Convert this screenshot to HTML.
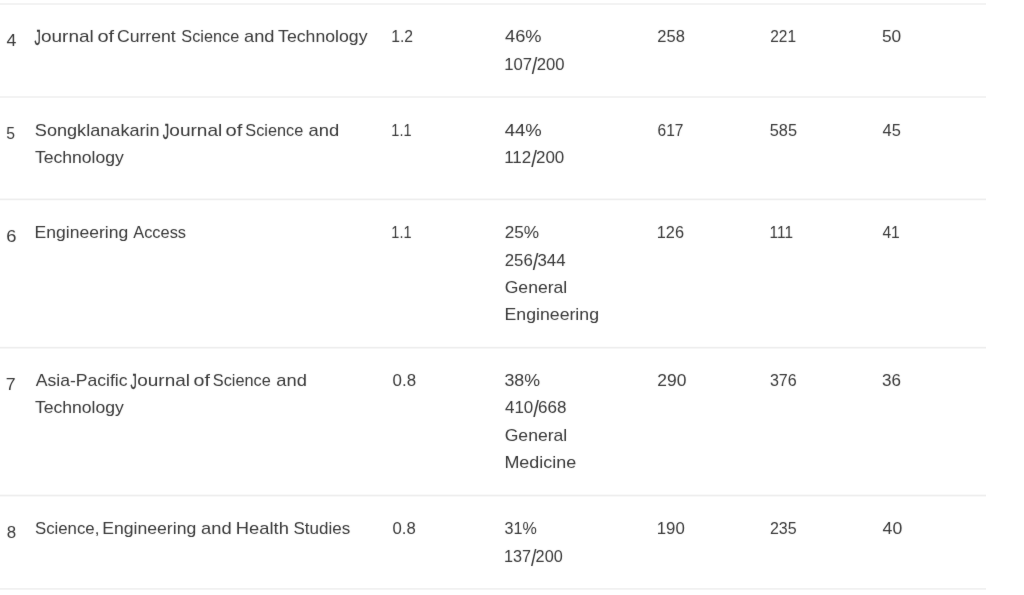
<!DOCTYPE html>
<html lang="en"><head><meta charset="utf-8"><title>Sources</title>
<style>
html,body{margin:0;padding:0;background:#fff;}
body{width:1024px;height:595px;position:relative;overflow:hidden;font-family:"Liberation Sans",sans-serif;color:#383838;}
#w{position:absolute;left:0;top:0;width:1024px;height:595px;will-change:transform;}
.w,.n{position:absolute;left:0;white-space:nowrap;line-height:20px;height:20px;transform-origin:0 0;}
.w{font-size:17px;}.n{font-size:16px;}
.l{position:absolute;left:0;width:985.5px;height:1px;}
.n b{font-weight:normal;display:inline-block;transform:scale(1.2,1.44);transform-origin:50% 6px;}
#t{position:absolute;left:0;top:0;width:1024px;height:595px;filter:url(#soft);}
</style></head>
<body>
<svg width="0" height="0" style="position:absolute"><defs><filter id="soft" x="0" y="0" width="100%" height="100%" color-interpolation-filters="sRGB"><feConvolveMatrix order="3" kernelMatrix="0.0125 0.05 0.0125 0.05 0.75 0.05 0.0125 0.05 0.0125" divisor="1" edgeMode="duplicate" preserveAlpha="false"/></filter></defs></svg>
<div id="w">
<div class="l" style="top:3px;background:#f3f3f3"></div>
<div class="l" style="top:4px;background:#f3f3f3"></div>
<div class="l" style="top:96px;background:#f3f3f3"></div>
<div class="l" style="top:97px;background:#f3f3f3"></div>
<div class="l" style="top:198px;background:#f7f7f7"></div>
<div class="l" style="top:199px;background:#eeeeee"></div>
<div class="l" style="top:200px;background:#fbfbfb"></div>
<div class="l" style="top:346px;background:#fcfcfc"></div>
<div class="l" style="top:347px;background:#eeeeee"></div>
<div class="l" style="top:348px;background:#f6f6f6"></div>
<div class="l" style="top:494px;background:#f9f9f9"></div>
<div class="l" style="top:495px;background:#eeeeee"></div>
<div class="l" style="top:496px;background:#f8f8f8"></div>
<div class="l" style="top:588px;background:#f1f1f1"></div>
<div class="l" style="top:589px;background:#f4f4f4"></div>
<div id="t">
<div class="row">
 <div class="cell">
  <div><span class="n" style="top:31px;transform:translateX(6.53px) scaleX(1.1093)">4</span></div>
 </div>
 <div class="cell">
  <div><span class="w" style="top:27px;transform-origin:0 3px;-webkit-text-stroke:0.25px #383838;transform:translateX(34.48px) scale(0.7426,1.2600)">J</span><span class="w" style="top:27px;transform:translateX(41.01px) scaleX(1.1158)">ournal</span> <span class="w" style="top:27px;transform:translateX(97.40px) scaleX(1.1764)">of</span> <span class="w" style="top:27px;transform:translateX(116.90px) scaleX(1.0372)">Current</span> <span class="w" style="top:27px;transform:translateX(181.37px) scaleX(0.9573)">Science</span> <span class="w" style="top:27px;transform:translateX(244.00px) scaleX(1.0754)">and</span> <span class="w" style="top:27px;transform:translateX(278.10px) scaleX(1.0391)">Technology</span></div>
 </div>
 <div class="cell">
  <div><span class="n" style="top:27px;transform:translateX(391.28px) scaleX(0.9811)">1.2</span></div>
 </div>
 <div class="cell">
  <div><span class="n" style="top:27px;transform:translateX(505.01px) scaleX(1.1394)">46%</span></div>
  <div><span class="n" style="top:55px;transform:translateX(504.24px) scaleX(1.0404)">107<b>/</b>200</span></div>
 </div>
 <div class="cell">
  <div><span class="n" style="top:27px;transform:translateX(657.32px) scaleX(1.0314)">258</span></div>
 </div>
 <div class="cell">
  <div><span class="n" style="top:27px;transform:translateX(770.24px) scaleX(0.9654)">221</span></div>
 </div>
 <div class="cell">
  <div><span class="n" style="top:27px;transform:translateX(881.88px) scaleX(1.0798)">50</span></div>
 </div>
</div>
<div class="row">
 <div class="cell">
  <div><span class="n" style="top:124px;transform:translateX(6.27px) scaleX(0.9825)">5</span></div>
 </div>
 <div class="cell">
  <div><span class="w" style="top:121px;transform:translateX(34.80px) scaleX(1.0656)">Songklanakarin</span> <span class="w" style="top:121px;transform-origin:0 3px;-webkit-text-stroke:0.25px #383838;transform:translateX(162.72px) scale(0.7435,1.2600)">J</span><span class="w" style="top:121px;transform:translateX(169.30px) scaleX(1.1213)">ournal</span> <span class="w" style="top:121px;transform:translateX(225.47px) scaleX(1.1845)">of</span> <span class="w" style="top:121px;transform:translateX(245.37px) scaleX(0.9573)">Science</span> <span class="w" style="top:121px;transform:translateX(308.52px) scaleX(1.0812)">and</span></div>
  <div><span class="w" style="top:148px;transform:translateX(34.91px) scaleX(1.0344)">Technology</span></div>
 </div>
 <div class="cell">
  <div><span class="n" style="top:121px;transform:translateX(391.37px) scaleX(0.9033)">1.1</span></div>
 </div>
 <div class="cell">
  <div><span class="n" style="top:121px;transform:translateX(504.72px) scaleX(1.1541)">44%</span></div>
  <div><span class="n" style="top:148px;transform:translateX(504.15px) scaleX(1.0610)">112<b>/</b>200</span></div>
 </div>
 <div class="cell">
  <div><span class="n" style="top:121px;transform:translateX(657.50px) scaleX(0.9710)">617</span></div>
 </div>
 <div class="cell">
  <div><span class="n" style="top:121px;transform:translateX(769.74px) scaleX(1.0198)">585</span></div>
 </div>
 <div class="cell">
  <div><span class="n" style="top:121px;transform:translateX(882.59px) scaleX(1.0275)">45</span></div>
 </div>
</div>
<div class="row">
 <div class="cell">
  <div><span class="n" style="top:227px;transform:translateX(6.37px) scaleX(1.1452)">6</span></div>
 </div>
 <div class="cell">
  <div><span class="w" style="top:223px;transform:translateX(34.60px) scaleX(1.0319)">Engineering</span> <span class="w" style="top:223px;transform:translateX(133.23px) scaleX(0.9637)">Access</span></div>
 </div>
 <div class="cell">
  <div><span class="n" style="top:223px;transform:translateX(391.37px) scaleX(0.9033)">1.1</span></div>
 </div>
 <div class="cell">
  <div><span class="n" style="top:223px;transform:translateX(504.63px) scaleX(1.0761)">25%</span></div>
  <div><span class="n" style="top:251px;transform:translateX(504.77px) scaleX(1.0506)">256<b>/</b>344</span></div>
  <div><span class="w" style="top:278px;transform:translateX(504.69px) scaleX(1.0344)">General</span></div>
  <div><span class="w" style="top:305px;transform:translateX(504.57px) scaleX(1.0403)">Engineering</span></div>
 </div>
 <div class="cell">
  <div><span class="n" style="top:223px;transform:translateX(656.76px) scaleX(1.0200)">126</span></div>
 </div>
 <div class="cell">
  <div><span class="n" style="top:223px;transform:translateX(769.60px) scaleX(0.9593)">111</span></div>
 </div>
 <div class="cell">
  <div><span class="n" style="top:223px;transform:translateX(882.44px) scaleX(0.9750)">41</span></div>
 </div>
</div>
<div class="row">
 <div class="cell">
  <div><span class="n" style="top:375px;transform:translateX(5.69px) scaleX(1.1074)">7</span></div>
 </div>
 <div class="cell">
  <div><span class="w" style="top:371px;transform:translateX(35.72px) scaleX(1.0342)">Asia-Pacific</span> <span class="w" style="top:371px;transform-origin:0 3px;-webkit-text-stroke:0.25px #383838;transform:translateX(130.43px) scale(0.7457,1.2600)">J</span><span class="w" style="top:371px;transform:translateX(137.22px) scaleX(1.1155)">ournal</span> <span class="w" style="top:371px;transform:translateX(193.53px) scaleX(1.1586)">of</span> <span class="w" style="top:371px;transform:translateX(212.78px) scaleX(0.9594)">Science</span> <span class="w" style="top:371px;transform:translateX(276.27px) scaleX(1.0783)">and</span></div>
  <div><span class="w" style="top:398px;transform:translateX(34.91px) scaleX(1.0344)">Technology</span></div>
 </div>
 <div class="cell">
  <div><span class="n" style="top:371px;transform:translateX(392.55px) scaleX(1.0558)">0.8</span></div>
 </div>
 <div class="cell">
  <div><span class="n" style="top:371px;transform:translateX(504.46px) scaleX(1.1125)">38%</span></div>
  <div><span class="n" style="top:398px;transform:translateX(504.97px) scaleX(1.0615)">410<b>/</b>668</span></div>
  <div><span class="w" style="top:426px;transform:translateX(504.69px) scaleX(1.0344)">General</span></div>
  <div><span class="w" style="top:453px;transform:translateX(504.41px) scaleX(1.0561)">Medicine</span></div>
 </div>
 <div class="cell">
  <div><span class="n" style="top:371px;transform:translateX(657.31px) scaleX(1.0900)">290</span></div>
 </div>
 <div class="cell">
  <div><span class="n" style="top:371px;transform:translateX(769.89px) scaleX(1.0031)">376</span></div>
 </div>
 <div class="cell">
  <div><span class="n" style="top:371px;transform:translateX(881.95px) scaleX(1.0649)">36</span></div>
 </div>
</div>
<div class="row">
 <div class="cell">
  <div><span class="n" style="top:523px;transform:translateX(6.63px) scaleX(1.0555)">8</span></div>
 </div>
 <div class="cell">
  <div><span class="w" style="top:519px;transform:translateX(34.96px) scaleX(0.9872)">Science,</span> <span class="w" style="top:519px;transform:translateX(102.22px) scaleX(1.0363)">Engineering</span> <span class="w" style="top:519px;transform:translateX(201.03px) scaleX(1.0768)">and</span> <span class="w" style="top:519px;transform:translateX(235.81px) scaleX(1.0789)">Health</span> <span class="w" style="top:519px;transform:translateX(293.47px) scaleX(0.9991)">Studies</span></div>
 </div>
 <div class="cell">
  <div><span class="n" style="top:519px;transform:translateX(392.56px) scaleX(1.0454)">0.8</span></div>
 </div>
 <div class="cell">
  <div><span class="n" style="top:519px;transform:translateX(504.51px) scaleX(1.0062)">31%</span></div>
  <div><span class="n" style="top:547px;transform:translateX(504.02px) scaleX(1.0138)">137<b>/</b>200</span></div>
 </div>
 <div class="cell">
  <div><span class="n" style="top:519px;transform:translateX(656.73px) scaleX(1.0495)">190</span></div>
 </div>
 <div class="cell">
  <div><span class="n" style="top:519px;transform:translateX(769.89px) scaleX(0.9995)">235</span></div>
 </div>
 <div class="cell">
  <div><span class="n" style="top:519px;transform:translateX(882.62px) scaleX(1.1017)">40</span></div>
 </div>
</div>
</div></div></body></html>
